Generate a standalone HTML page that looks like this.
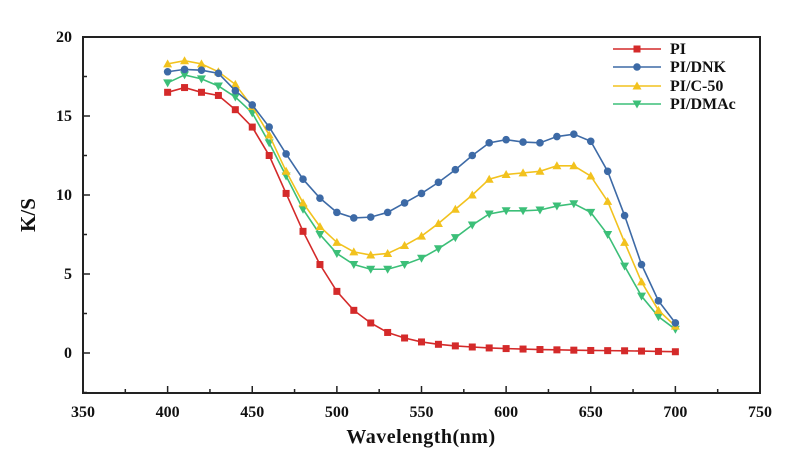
<!DOCTYPE html>
<html><head><meta charset="utf-8"><style>
html,body{margin:0;padding:0;background:#fff;}
svg text{font-family:"Liberation Serif",serif;font-weight:bold;fill:#111;}
</style></head><body>
<svg id="s" width="800" height="458" viewBox="0 0 800 458" xmlns="http://www.w3.org/2000/svg">
<rect x="83" y="37" width="677" height="356" fill="none" stroke="#222" stroke-width="2"/>
<g id="ax"></g>
<text x="35" y="215" font-size="21" text-anchor="middle" transform="rotate(-90 35 215)">K/S</text>
<text x="421" y="443" font-size="20" text-anchor="middle" letter-spacing="0.5">Wavelength(nm)</text>
<g id="data"></g>
<g id="leg" font-size="16"></g>
</svg>
<script>
var NS="http://www.w3.org/2000/svg";
function X(w){return 83+(w-350)*1.6925;}
function Y(v){return 353-15.8*v;}
function el(t,a,p,txt){var e=document.createElementNS(NS,t);for(var k in a)e.setAttribute(k,a[k]);if(txt!=null)e.textContent=txt;p.appendChild(e);return e;}
var ax=document.getElementById('ax');
for(var w=350;w<=750;w+=25){var maj=(w%50==0);el('line',{x1:X(w),x2:X(w),y1:393,y2:393-(maj?7:4),stroke:'#222','stroke-width':1.5},ax);
 if(maj)el('text',{x:X(w),y:417,'font-size':16,'text-anchor':'middle'},ax,w);}
for(var v=-2.5;v<=20;v+=2.5){var maj=(v%5==0);el('line',{x1:83,x2:83+(maj?7:4),y1:Y(v),y2:Y(v),stroke:'#222','stroke-width':1.5},ax);
 if(maj)el('text',{x:72,y:Y(v)+5,'font-size':16,'text-anchor':'end'},ax,v);}
var S=[
{c:'#d42a2a',m:'sq',d:[16.5,16.8,16.5,16.3,15.4,14.3,12.5,10.1,7.7,5.6,3.9,2.7,1.9,1.3,0.95,0.7,0.55,0.45,0.38,0.32,0.28,0.25,0.22,0.2,0.18,0.16,0.15,0.14,0.12,0.1,0.08]},
{c:'#3d6aa6',m:'ci',d:[17.8,17.95,17.9,17.7,16.6,15.7,14.3,12.6,11.0,9.8,8.9,8.55,8.6,8.9,9.5,10.1,10.8,11.6,12.5,13.3,13.5,13.35,13.3,13.7,13.85,13.4,11.5,8.7,5.6,3.3,1.9]},
{c:'#f2c21e',m:'up',d:[18.3,18.5,18.3,17.8,17.0,15.6,13.8,11.5,9.5,8.0,7.0,6.4,6.2,6.3,6.8,7.4,8.2,9.1,10.0,11.0,11.3,11.4,11.5,11.85,11.85,11.2,9.6,7.0,4.5,2.7,1.7]},
{c:'#3cbf78',m:'dn',d:[17.1,17.6,17.35,16.9,16.2,15.2,13.3,11.2,9.1,7.5,6.3,5.6,5.3,5.3,5.6,6.0,6.6,7.3,8.1,8.8,9.0,9.0,9.05,9.3,9.45,8.9,7.5,5.5,3.6,2.3,1.5]}];
function mk(m,x,y,c,p){
 if(m=='sq')el('rect',{x:x-3.5,y:y-3.5,width:7,height:7,fill:c},p);
 else if(m=='ci')el('circle',{cx:x,cy:y,r:3.8,fill:c},p);
 else if(m=='up')el('polygon',{points:(x-4.5)+','+(y+3.5)+' '+(x+4.5)+','+(y+3.5)+' '+x+','+(y-4.5),fill:c},p);
 else el('polygon',{points:(x-4.5)+','+(y-3.5)+' '+(x+4.5)+','+(y-3.5)+' '+x+','+(y+4.5),fill:c},p);}
var g=document.getElementById('data');
[0,3,2,1].forEach(function(i){var s=S[i];var pts=s.d.map(function(v,j){return X(400+10*j)+','+Y(v);}).join(' ');
 el('polyline',{points:pts,fill:'none',stroke:s.c,'stroke-width':1.6},g);
 s.d.forEach(function(v,j){mk(s.m,X(400+10*j),Y(v),s.c,g);});});
var lg=document.getElementById('leg');var names=['PI','PI/DNK','PI/C-50','PI/DMAc'];var ly=[49,67,86,104];
S.forEach(function(s,i){el('line',{x1:613,x2:661,y1:ly[i],y2:ly[i],stroke:s.c,'stroke-width':1.6},lg);mk(s.m,637,ly[i],s.c,lg);
 el('text',{x:670,y:ly[i]+5},lg,names[i]);});
</script>
</body></html>
